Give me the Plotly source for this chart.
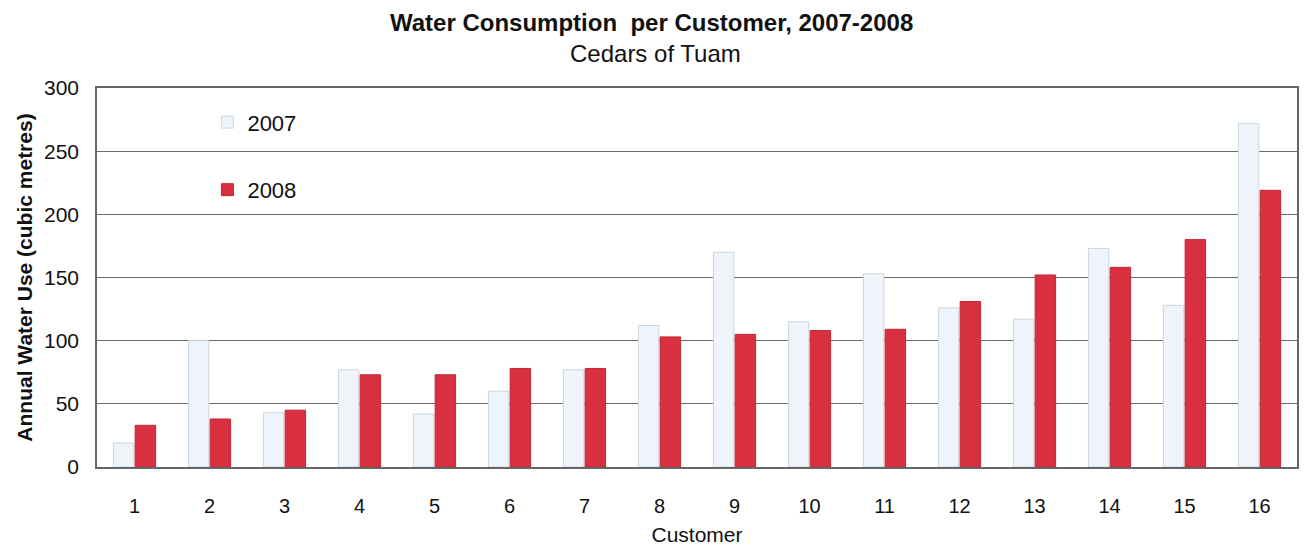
import plotly.graph_objects as go

customers = [str(i) for i in range(1, 17)]
use_2007 = [19, 100, 43, 77, 42, 60, 77, 112, 170, 115, 153, 126, 117, 173, 128, 272]
use_2008 = [33, 38, 45, 73, 73, 78, 78, 103, 105, 108, 109, 131, 152, 158, 180, 219]
y_ticks = [0, 50, 100, 150, 200, 250, 300]

FONT = "Liberation Sans, Arial, sans-serif"

fig = go.Figure()
fig.add_trace(go.Bar(
    x=customers, y=use_2007, name="2007", legendgroup="a",
    marker=dict(color="#eef4f9", line=dict(color="#c9d6e0", width=1)),
))
fig.add_trace(go.Bar(
    x=customers, y=use_2008, name="2008", legendgroup="b",
    marker=dict(color="#d8303f", line=dict(color="#c42636", width=1)),
))

fig.add_annotation(
    text="<b>Water Consumption  per Customer, 2007-2008</b>",
    xref="paper", yref="paper", x=0.462, y=1, yshift=66,
    xanchor="center", yanchor="middle", showarrow=False,
    font=dict(family=FONT, size=24, color="#111"),
)
fig.add_annotation(
    text="Cedars of Tuam",
    xref="paper", yref="paper", x=0.465, y=1, yshift=35,
    xanchor="center", yanchor="middle", showarrow=False,
    font=dict(family=FONT, size=24, color="#111"),
)

fig.update_layout(
    width=1304, height=548,
    paper_bgcolor="white", plot_bgcolor="white",
    margin=dict(l=97, r=5, t=88, b=78),
    barmode="group", bargap=0.42, bargroupgap=0.06,
    font=dict(family=FONT, color="#111", size=20),
    legend=dict(
        x=0.092, y=0.965, xanchor="left", yanchor="top",
        bgcolor="rgba(0,0,0,0)", font=dict(size=22, family=FONT),
        tracegroupgap=36, traceorder="grouped",
    ),
    xaxis=dict(
        title=dict(text="Customer", font=dict(size=21), standoff=12),
        showline=True, linecolor="#666", linewidth=1.5, mirror=True,
        ticks="", ticklabelstandoff=20, tickfont=dict(size=20),
    ),
    yaxis=dict(
        title=dict(text="<b>Annual Water Use (cubic metres)</b>", font=dict(size=21), standoff=6),
        range=[0, 300], tickvals=y_ticks, tickfont=dict(size=21),
        showgrid=True, gridcolor="#6a6a6a", gridwidth=1.4,
        showline=True, linecolor="#666", linewidth=1.5, mirror=True,
        zeroline=False, ticks="", ticklabelstandoff=12,
    ),
)

fig.write_html("out.html")
